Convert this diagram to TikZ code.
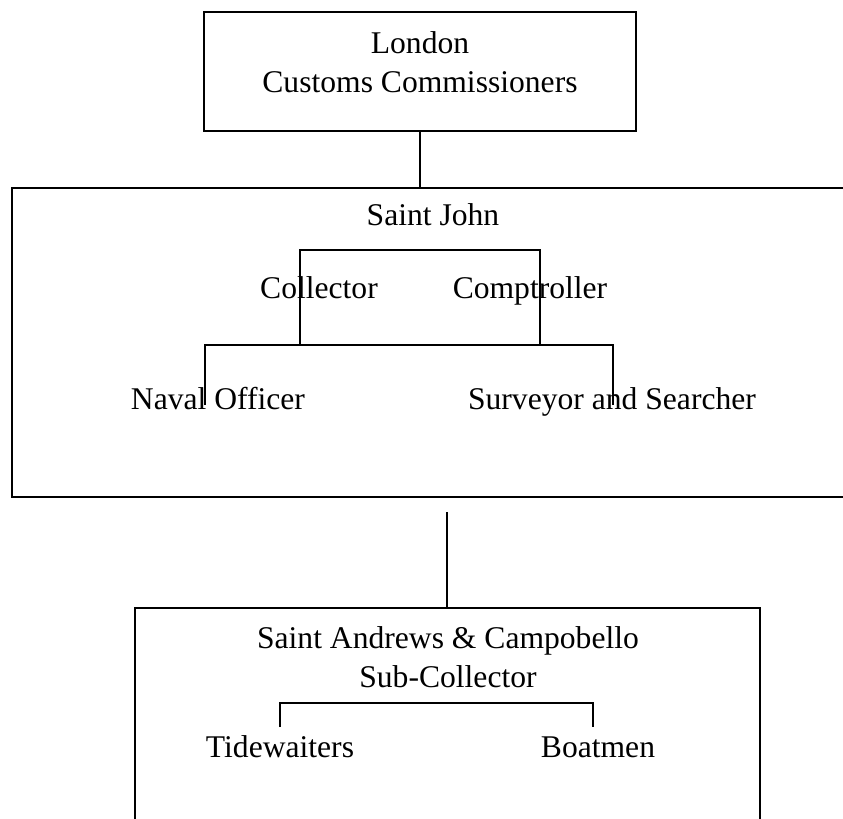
\documentclass[tikz,border=0pt]{standalone}
\usepackage{fontspec}
\setmainfont{Liberation Serif}
\usetikzlibrary{positioning,calc}
\tikzset{
  office/.style={font=\fontsize{15.8}{19.5}\selectfont,inner sep=0pt,align=center},
  frame/.style={draw=black,line width=0.9pt},
  link/.style={draw=black,line width=0.9pt},
}

\begin{document}
\begin{tikzpicture}[x=0.5pt,y=-0.5pt]
  \useasboundingbox (0,0) rectangle (843,819);
  % london
  \node[frame,minimum width=216pt,minimum height=59.5pt] (ldnbox) at (420,71.5) {};
  \node[office] (london) at (420,62) {London\\Customs Commissioners};
  % saint john
  \coordinate (sjtl) at (12,188);
  \coordinate (sjbl) at (12,497);
  \draw[frame] (843,188) -- (sjtl) -- (sjbl) -- (843,497);
  \draw[link] (ldnbox.south) -- (ldnbox.south |- sjtl);
  \node[office,anchor=base] (stjohn) at (433,226) {Saint John};
  \node[office,anchor=base] (coll)  at (319,299) {Collector};
  \node[office,anchor=base] (compt) at (530,299) {Comptroller};
  \node[office,anchor=base] (naval) at (218,409) {Naval Officer};
  \node[office,anchor=base] (surv)  at (612,409) {Surveyor and Searcher};
  \coordinate (ucl) at (300,250);
  \coordinate (ucr) at (540,250);
  \coordinate (lbl) at (205,345);
  \coordinate (lbr) at (613,345);
  \draw[link] (ucl |- lbl) -- (ucl) -- (ucr) -- (ucr |- lbr);
  \draw[link] ($(lbl)+(0,60)$) -- (lbl) -- (lbr) -- ($(lbr)+(0,60)$);
  % saint andrews
  \coordinate (satop) at (447,608);
  \draw[frame] (135,819) -- (135,608) -- (760,608) -- (760,819);
  \draw[link] ($(satop)+(0,-96)$) -- (satop);
  \node[office] (standrews) at (448,657) {Saint Andrews \& Campobello\\Sub-Collector};
  \coordinate (tl) at (280,703);
  \coordinate (tr) at (593,703);
  \draw[link] ($(tl)+(0,24)$) -- (tl) -- (tr) -- ($(tr)+(0,24)$);
  \node[office,anchor=base] (tide) at (280,757) {Tidewaiters};
  \node[office,anchor=base] (boat) at (598,757) {Boatmen};
\end{tikzpicture}
\end{document}
